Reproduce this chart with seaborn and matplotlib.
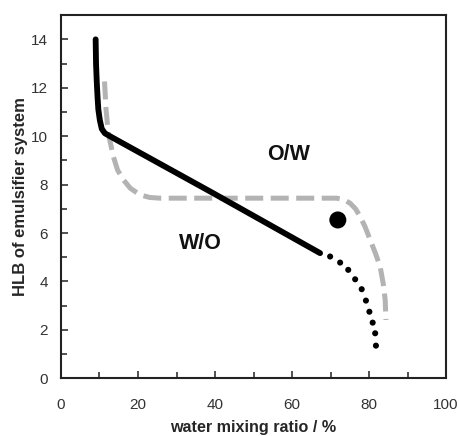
import matplotlib
matplotlib.use("Agg")
import matplotlib.pyplot as plt
import seaborn as sns
import pandas as pd
from matplotlib.ticker import MultipleLocator

sns.set_theme(style="white")
plt.rcParams['font.family'] = ['Liberation Sans', 'DejaVu Sans']

# Solid black boundary
solid_x = [9.0, 9.1, 9.3, 9.5, 9.7, 10.1, 10.6, 11.4, 12.7, 39.6, 67.3]
solid_y = [14.0, 13.0, 12.2, 11.6, 11.1, 10.65, 10.3, 10.12, 10.0, 7.64, 5.17]

# Dotted continuation
dot_x = [69.9, 72.5, 74.6, 76.4, 78.1, 79.2, 80.1, 80.95, 81.6, 81.8]
dot_y = [5.03, 4.78, 4.48, 4.09, 3.68, 3.21, 2.75, 2.30, 1.86, 1.35]

# Gray dashed boundary
dash_x = [11.3, 11.5, 11.7, 12.3, 13.0, 13.6, 14.7, 16.2, 18.0, 20.5, 23.0, 25.7,
          71.6, 73.5, 75.1, 76.5, 77.7, 79.0, 80.3, 81.7, 82.9, 83.7, 84.2, 84.4]
dash_y = [12.26, 11.7, 11.1, 10.1, 9.6, 9.16, 8.6, 8.2, 7.85, 7.58, 7.47, 7.44,
          7.44, 7.38, 7.23, 7.0, 6.68, 6.25, 5.72, 5.15, 4.61, 3.9, 3.24, 2.41]

# Single point
pt_x = [71.9]
pt_y = [6.54]

fig = plt.figure(figsize=(4.6, 4.36), dpi=100)
ax = fig.add_axes([0.1326, 0.1323, 0.837, 0.833])

sns.lineplot(x=dash_x, y=dash_y, ax=ax, sort=False, estimator=None,
             color='#b3b3b3', lw=3.6, linestyle=(0, (3.6, 1.5)))
sns.lineplot(x=solid_x, y=solid_y, ax=ax, sort=False, estimator=None,
             color='black', lw=4.2)
sns.scatterplot(x=dot_x, y=dot_y, ax=ax, color='black', s=19, edgecolor='none')
sns.scatterplot(x=pt_x, y=pt_y, ax=ax, color='black', s=150, edgecolor='none')

ax.text(59.0, 9.23, 'O/W', fontsize=15.5, fontweight='bold', ha='center', va='center', color='#111111')
ax.text(36.1, 5.58, 'W/O', fontsize=15.5, fontweight='bold', ha='center', va='center', color='#111111')

ax.set_xlim(0, 100)
ax.set_ylim(0, 15)
ax.xaxis.set_major_locator(MultipleLocator(20))
ax.xaxis.set_minor_locator(MultipleLocator(10))
ax.yaxis.set_minor_locator(MultipleLocator(1))
ax.set_yticks([0, 2, 4, 6, 8, 10, 12, 14])
ax.tick_params(which='both', direction='in', color='#333333', width=1.2,
               labelsize=11, labelcolor='#333333')
ax.tick_params(which='major', length=5)
ax.tick_params(which='minor', length=4)
ax.tick_params(axis='x', which='major', pad=14)
ax.tick_params(axis='y', which='major', pad=9.5)
ax.tick_params(axis='x', which='both', bottom=True, top=False)
ax.tick_params(axis='y', which='both', left=True, right=False)
for s in ax.spines.values():
    s.set_color('#222222')
    s.set_linewidth(1.5)

ax.set_xlabel('water mixing ratio / %', fontsize=11.6, fontweight='bold', labelpad=6)
ax.set_ylabel('HLB of emulsifier system', fontsize=12, fontweight='bold', labelpad=2)

fig.savefig('out.png', dpi=100)
